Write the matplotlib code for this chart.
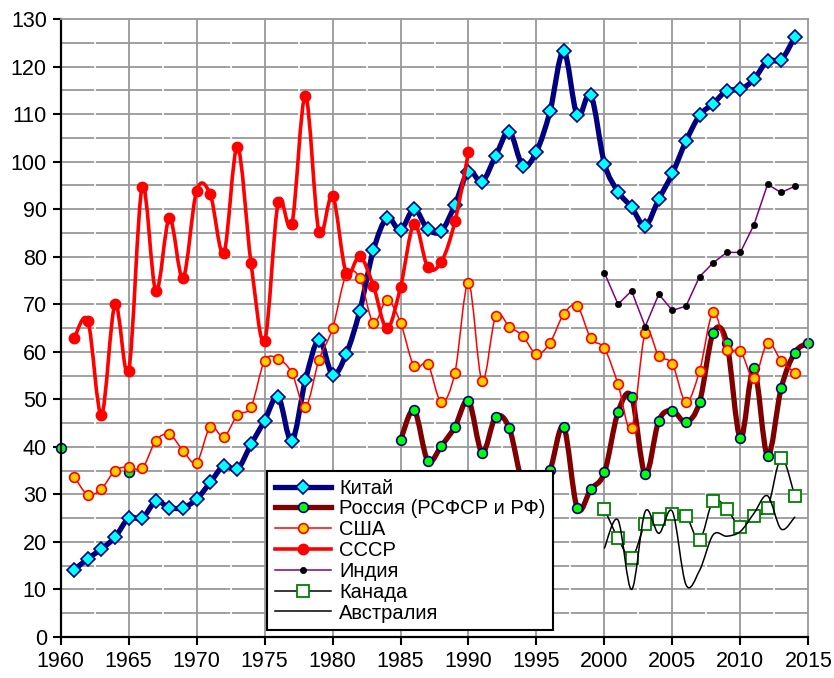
import numpy as np
import matplotlib
matplotlib.use('Agg')
import matplotlib.pyplot as plt
from matplotlib.path import Path
from matplotlib.patches import PathPatch
from matplotlib.lines import Line2D

plt.rcParams['font.family'] = ['Liberation Sans', 'DejaVu Sans']

# --- данные ---
china_years = list(range(1961, 2015))
china = [14.1, 16.5, 18.5, 21.0, 25.0, 25.0, 28.5, 27.2, 27.2, 29.0,
         32.5, 36.0, 35.3, 40.5, 45.5, 50.5, 41.2, 54.0, 62.5, 55.2,
         59.5, 68.6, 81.3, 88.1, 85.6, 90.0, 85.8, 85.4, 90.9, 97.9,
         95.8, 101.2, 106.3, 99.1, 102.1, 110.6, 123.3, 109.7, 114.0, 99.6,
         93.7, 90.4, 86.5, 92.1, 97.5, 104.3, 109.7, 112.2, 114.9, 115.2,
         117.3, 121.2, 121.4, 126.2]

russia_years = [1960, 1965] + list(range(1985, 2016))
russia = [39.7, 34.6,
          41.4, 47.7, 37.1, 40.2, 44.2, 49.7, 38.8, 46.3, 43.9, 32.1,
          30.4, 35.1, 44.2, 27.1, 31.1, 34.6, 47.3, 50.5, 34.2, 45.5,
          47.6, 45.2, 49.4, 64.0, 61.9, 41.8, 56.5, 38.1, 52.3, 59.8,
          61.9]

usa_years = list(range(1961, 2015))
usa = [33.7, 29.9, 31.2, 35.0, 35.8, 35.5, 41.3, 42.6, 39.2, 36.7,
       44.2, 42.1, 46.7, 48.4, 58.1, 58.5, 55.6, 48.4, 58.3, 64.9,
       76.1, 75.5, 66.1, 70.9, 66.1, 56.9, 57.4, 49.4, 55.6, 74.5,
       53.9, 67.5, 65.3, 63.3, 59.5, 61.9, 67.9, 69.6, 62.8, 60.7,
       53.2, 43.9, 64.0, 59.1, 57.4, 49.4, 56.0, 68.3, 60.4, 60.2,
       54.4, 61.9, 58.1, 55.6]

ussr_years = list(range(1961, 1991))
ussr = [62.9, 66.5, 46.8, 70.0, 56.0, 94.7, 72.8, 88.1, 75.5, 93.9,
        93.1, 80.8, 103.1, 78.7, 62.3, 91.4, 86.8, 113.8, 85.2, 92.8,
        76.6, 80.1, 73.9, 64.9, 73.6, 86.9, 77.8, 78.9, 87.4, 102.0]

india_years = list(range(2000, 2015))
india = [76.6, 70.0, 72.8, 65.3, 72.1, 68.7, 69.6, 75.8, 78.7, 80.9,
         80.9, 86.7, 95.2, 93.5, 94.8]

canada_years = list(range(2000, 2015))
canada = [26.9, 20.8, 16.6, 23.7, 24.8, 25.8, 25.5, 20.4, 28.7, 26.9,
          23.2, 25.5, 27.1, 37.6, 29.7]

australia_years = list(range(2000, 2015))
australia = [18.7, 24.6, 10.0, 26.4, 21.8, 26.4, 11.0, 14.0, 21.5, 21.2,
             22.2, 26.0, 29.7, 22.7, 25.2]

x_ticks = list(range(1960, 2016, 5))
y_ticks = list(range(0, 131, 10))


def smooth_path(xs, ys):
    # сглаженная линия (кривые Безье через точки), как в Excel
    p = np.column_stack([xs, ys]).astype(float)
    n = len(p)
    verts = [p[0]]
    codes = [Path.MOVETO]
    for i in range(n - 1):
        p0 = p[i - 1] if i > 0 else p[i]
        p3 = p[i + 2] if i + 2 < n else p[i + 1]
        c1 = p[i] + (p[i + 1] - p0) / 6
        c2 = p[i + 1] - (p3 - p[i]) / 6
        verts += [c1, c2, p[i + 1]]
        codes += [Path.CURVE4] * 3
    return Path(verts, codes)


def draw_series(ax, xs, ys, color, lw, z, smooth=True, **mk):
    xs = np.asarray(xs, dtype=float)
    ys = np.asarray(ys, dtype=float)
    breaks = np.where(np.diff(xs) > 1)[0] + 1
    for sx, sy in zip(np.split(xs, breaks), np.split(ys, breaks)):
        if len(sx) < 2:
            continue
        if smooth:
            ax.add_patch(PathPatch(smooth_path(sx, sy), fill=False,
                                   edgecolor=color, lw=lw, zorder=z,
                                   capstyle='round', joinstyle='round'))
        else:
            ax.plot(sx, sy, color=color, lw=lw, zorder=z)
    if mk:
        ax.plot(xs, ys, linestyle='none', zorder=z + 0.1, clip_on=False, **mk)


fig = plt.figure(figsize=(8.34, 6.78), dpi=100)
ax = fig.add_axes([0.0728, 0.0605, 0.8964, 0.9115])

# сетка
grid_c = '#999999'
for v in range(5, 130, 5):
    ax.axhline(v, color=grid_c, lw=1.3, zorder=0.5)
for x in range(1965, 2015, 5):
    ax.axvline(x, color=grid_c, lw=1.3, zorder=0.5)
for x in np.arange(1962.5, 2015, 5):
    ax.axvline(x, color='white', lw=1.2, zorder=0.6)

china_style = dict(color='#000080', lw=3.8)
china_mk = dict(marker='D', markersize=6.8, markerfacecolor='#00FFFF',
                markeredgecolor='#000080', markeredgewidth=1.2)
russia_style = dict(color='#800000', lw=3.8)
russia_mk = dict(marker='o', markersize=7, markerfacecolor='#00FF00',
                 markeredgecolor='#000080', markeredgewidth=1.2)
usa_style = dict(color='#FF0000', lw=1.1)
usa_mk = dict(marker='o', markersize=7, markerfacecolor='#FFCC00',
              markeredgecolor='#FF0000', markeredgewidth=1.2)
ussr_style = dict(color='#FF0000', lw=2.6)
ussr_mk = dict(marker='o', markersize=7.5, markerfacecolor='#FF0000',
               markeredgecolor='#FF0000', markeredgewidth=1)
india_style = dict(color='#800080', lw=1.1)
india_mk = dict(marker='o', markersize=4.5, markerfacecolor='black',
                markeredgecolor='black', markeredgewidth=0.5)
canada_style = dict(color='black', lw=1.1)
canada_mk = dict(marker='s', markersize=8, markerfacecolor='white',
                 markeredgecolor='#008000', markeredgewidth=1.3)
austr_style = dict(color='black', lw=1.1)

draw_series(ax, china_years, china, china_style['color'], china_style['lw'], 2.0, **china_mk)
draw_series(ax, russia_years, russia, russia_style['color'], russia_style['lw'], 2.2, **russia_mk)
draw_series(ax, usa_years, usa, usa_style['color'], usa_style['lw'], 2.4, **usa_mk)
draw_series(ax, ussr_years, ussr, ussr_style['color'], ussr_style['lw'], 2.6, **ussr_mk)
draw_series(ax, india_years, india, india_style['color'], india_style['lw'], 2.8, smooth=False, **india_mk)
draw_series(ax, canada_years, canada, canada_style['color'], canada_style['lw'], 3.0, **canada_mk)
draw_series(ax, australia_years, australia, austr_style['color'], austr_style['lw'], 3.2)

ax.set_xlim(1960, 2015)
ax.set_ylim(0, 130)
ax.set_xticks(x_ticks)
ax.set_yticks(y_ticks)
ax.tick_params(direction='out', length=6, width=1.5, labelsize=15.5,
               color='black', pad=4)

for s in ['left', 'bottom']:
    ax.spines[s].set_color('black')
    ax.spines[s].set_linewidth(1.6)
for s in ['top', 'right']:
    ax.spines[s].set_color(grid_c)
    ax.spines[s].set_linewidth(1.3)

handles = [
    Line2D([], [], **china_style, **china_mk),
    Line2D([], [], **russia_style, **russia_mk),
    Line2D([], [], **usa_style, **usa_mk),
    Line2D([], [], **ussr_style, **ussr_mk),
    Line2D([], [], **india_style, **india_mk),
    Line2D([], [], **canada_style, **canada_mk),
    Line2D([], [], **austr_style),
]
labels = ['Китай', 'Россия (РСФСР и РФ)', 'США', 'СССР', 'Индия',
          'Канада', 'Австралия']
leg = ax.legend(handles, labels, loc='lower left',
                bbox_to_anchor=(0.276, 0.011), borderaxespad=0,
                fontsize=14.5, handlelength=2.8, handletextpad=0.4,
                labelspacing=0.09, borderpad=0.38, fancybox=False,
                framealpha=1, edgecolor='black')
leg.get_frame().set_linewidth(1.5)
leg.set_zorder(10)

fig.savefig('out.png', dpi=100)
